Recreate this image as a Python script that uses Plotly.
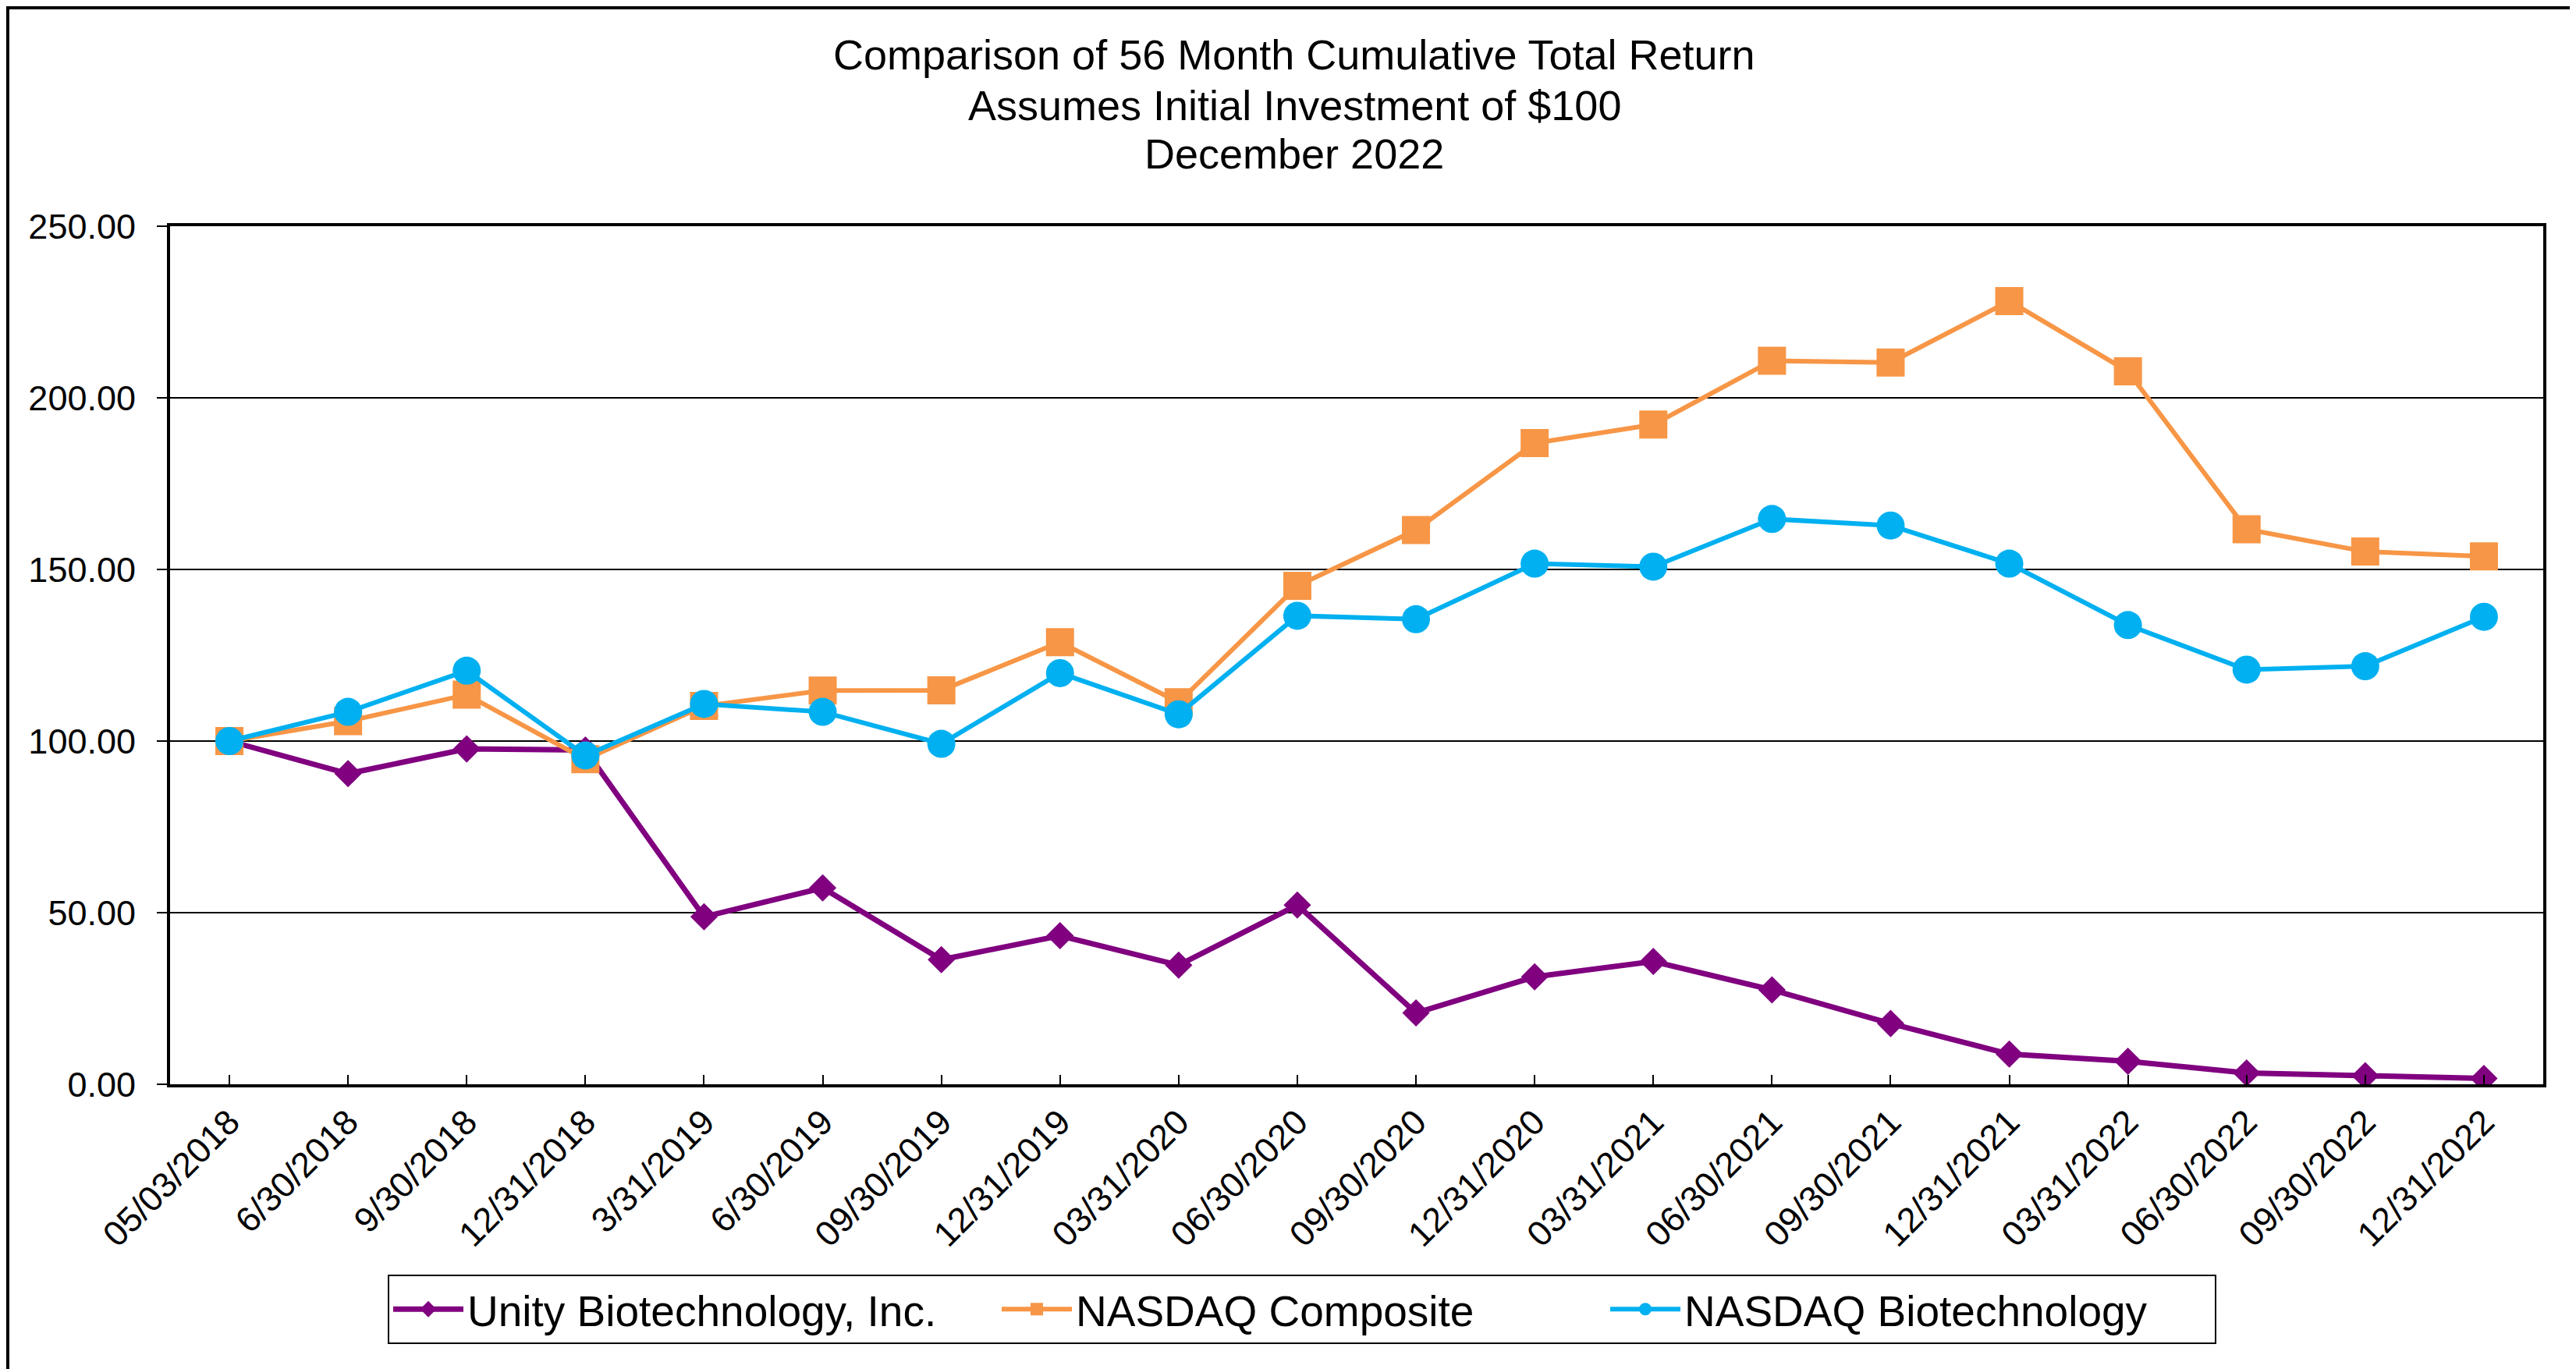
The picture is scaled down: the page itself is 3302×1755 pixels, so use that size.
import plotly.graph_objects as go

categories = ["05/03/2018", "6/30/2018", "9/30/2018", "12/31/2018", "3/31/2019",
              "6/30/2019", "09/30/2019", "12/31/2019", "03/31/2020", "06/30/2020",
              "09/30/2020", "12/31/2020", "03/31/2021", "06/30/2021", "09/30/2021",
              "12/31/2021", "03/31/2022", "06/30/2022", "09/30/2022", "12/31/2022"]

unity = [100.0, 90.5, 97.7, 97.4, 48.8, 57.2, 36.3, 43.3, 34.7, 52.2,
         20.8, 31.3, 35.8, 27.5, 17.7, 8.8, 6.7, 3.3, 2.5, 1.7]
nasdaq_comp = [100.0, 105.8, 113.5, 94.7, 110.2, 114.7, 114.8, 128.8, 111.3, 145.2,
               161.5, 186.8, 192.2, 210.8, 210.3, 228.2, 207.7, 161.7, 155.2, 153.8]
nasdaq_bio = [100.0, 108.5, 120.5, 95.8, 110.8, 108.5, 99.2, 119.8, 107.8, 136.5,
              135.5, 151.7, 150.8, 164.7, 162.8, 151.7, 133.8, 120.8, 121.8, 136.2]

y_ticks = [0, 50, 100, 150, 200, 250]

title_lines = ["Comparison of 56 Month Cumulative Total Return",
               "Assumes Initial Investment of $100",
               "December 2022"]

FONT = "Liberation Sans, Arial, sans-serif"
W, H = 3302, 1755
L, R, T, B = 210, 50, 282, 373
pw, ph = W - L - R, H - T - B


def py(pix_y):
    # convert a pixel row (from top of figure) to paper y
    return (H - B - pix_y) / ph


def px(pix_x):
    return (pix_x - L) / pw


fig = go.Figure()
fig.add_trace(go.Scatter(x=categories, y=unity, name="Unity Biotechnology, Inc.",
                         mode="lines+markers",
                         line=dict(color="#800080", width=7),
                         marker=dict(symbol="diamond", size=27, color="#800080")))
fig.add_trace(go.Scatter(x=categories, y=nasdaq_comp, name="NASDAQ Composite",
                         mode="lines+markers",
                         line=dict(color="#F79646", width=6),
                         marker=dict(symbol="square", size=36, color="#F79646")))
fig.add_trace(go.Scatter(x=categories, y=nasdaq_bio, name="NASDAQ Biotechnology",
                         mode="lines+markers",
                         line=dict(color="#00B0F0", width=6),
                         marker=dict(symbol="circle", size=36, color="#00B0F0")))

fig.update_layout(
    width=W, height=H,
    margin=dict(l=L, r=R, t=T, b=B, autoexpand=False),
    paper_bgcolor="white", plot_bgcolor="white",
    font=dict(family=FONT, size=45, color="black"),
    xaxis=dict(type="category", tickangle=-45, showline=True, linewidth=4, linecolor="black",
               mirror=True, ticks="inside", ticklen=12, tickwidth=2, tickcolor="black",
               showgrid=False, range=[-0.5, len(categories) - 0.5],
               tickfont=dict(family=FONT, size=45, color="black")),
    yaxis=dict(range=[0, 250], tickvals=y_ticks, tickformat=".2f", showline=True,
               linewidth=4, linecolor="black", mirror=True, ticks="outside", ticklen=13,
               tickwidth=2, tickcolor="black", showgrid=True, gridcolor="black", gridwidth=2,
               zeroline=False, ticklabelstandoff=18,
               tickfont=dict(family=FONT, size=45, color="black")),
    legend=dict(orientation="h", x=px(W / 2 + 10), xanchor="center",
                y=py(1626), yanchor="top",
                bordercolor="black", borderwidth=2, bgcolor="white",
                itemwidth=90, entrywidth=675, entrywidthmode="pixels",
                font=dict(family=FONT, size=55, color="black")),
    showlegend=True,
)

for line_text, ycen in zip(title_lines, [62, 127, 189]):
    fig.add_annotation(text=line_text, xref="paper", yref="paper",
                       x=px(W / 2), y=py(ycen), xanchor="center", yanchor="middle",
                       showarrow=False, font=dict(family=FONT, size=54, color="black"))

fig.add_shape(type="rect", xref="paper", yref="paper",
              x0=px(2), x1=px(W - 2), y0=py(H - 2), y1=py(2),
              line=dict(color="black", width=4), fillcolor="rgba(0,0,0,0)", layer="below")

fig.write_html("out.html")
